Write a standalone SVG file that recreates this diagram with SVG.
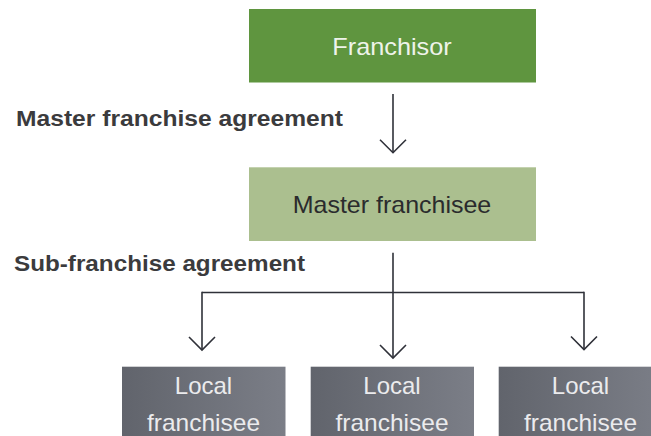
<svg xmlns="http://www.w3.org/2000/svg" width="651" height="436" viewBox="0 0 651 436">
<style>
.lbl{font-family:"Liberation Sans",Arial,sans-serif;font-weight:bold;font-size:21.5px;fill:#3b3b3d}
.nt{font-family:"Liberation Sans",Arial,sans-serif;font-size:24px;text-anchor:middle}
.conn{fill:none;stroke:#2f3139;stroke-width:1.6}
</style>
<defs>
<linearGradient id="grey" x1="0" y1="0" x2="1" y2="0">
<stop offset="0" stop-color="#61646c"/>
<stop offset="1" stop-color="#7b7e87"/>
</linearGradient>
<marker id="ah" markerUnits="userSpaceOnUse" markerWidth="30" markerHeight="30" viewBox="-15 -15 30 30" refX="0" refY="0" orient="auto" overflow="visible">
<path d="M-13,-13 L0,0 L-13,13" fill="none" stroke="#2f3139" stroke-width="1.6"/>
</marker>
</defs>
<text class="lbl" x="16" y="126" textLength="327" lengthAdjust="spacingAndGlyphs">Master franchise agreement</text>
<text class="lbl" x="14" y="271" textLength="291" lengthAdjust="spacingAndGlyphs">Sub-franchise agreement</text>
<g id="franchisor">
<rect x="249" y="9" width="287" height="73.5" fill="#5f953f"/>
<text class="nt" x="392" y="55" fill="#eef3ea" textLength="119.5" lengthAdjust="spacingAndGlyphs">Franchisor</text>
</g>
<g id="master">
<rect x="249" y="167.3" width="287" height="73.7" fill="#abbf8f"/>
<text class="nt" x="392" y="213" fill="#2a2b2d" textLength="198.5" lengthAdjust="spacingAndGlyphs">Master franchisee</text>
</g>
<g id="local1">
<rect x="122" y="366.7" width="163.5" height="70" fill="url(#grey)"/>
<text class="nt" x="203.5" y="393.5" fill="#ebebed">Local</text>
<text class="nt" x="203.5" y="430.5" fill="#ebebed" textLength="113" lengthAdjust="spacingAndGlyphs">franchisee</text>
</g>
<g id="local2">
<rect x="310.7" y="366.7" width="163.3" height="70" fill="url(#grey)"/>
<text class="nt" x="392" y="393.5" fill="#ebebed">Local</text>
<text class="nt" x="392" y="430.5" fill="#ebebed" textLength="113" lengthAdjust="spacingAndGlyphs">franchisee</text>
</g>
<g id="local3">
<rect x="498.7" y="366.7" width="163.3" height="70" fill="url(#grey)"/>
<text class="nt" x="580.5" y="393.5" fill="#ebebed">Local</text>
<text class="nt" x="580.5" y="430.5" fill="#ebebed" textLength="113" lengthAdjust="spacingAndGlyphs">franchisee</text>
</g>
<g id="connectors">
<path class="conn" d="M393,94 V152.7" marker-end="url(#ah)"/>
<path class="conn" d="M393,252.7 V358" marker-end="url(#ah)"/>
<path class="conn" d="M202,292.5 H584"/>
<path class="conn" d="M202,291.7 V350" marker-end="url(#ah)"/>
<path class="conn" d="M584,291.7 V349.5" marker-end="url(#ah)"/>
</g>
</svg>
